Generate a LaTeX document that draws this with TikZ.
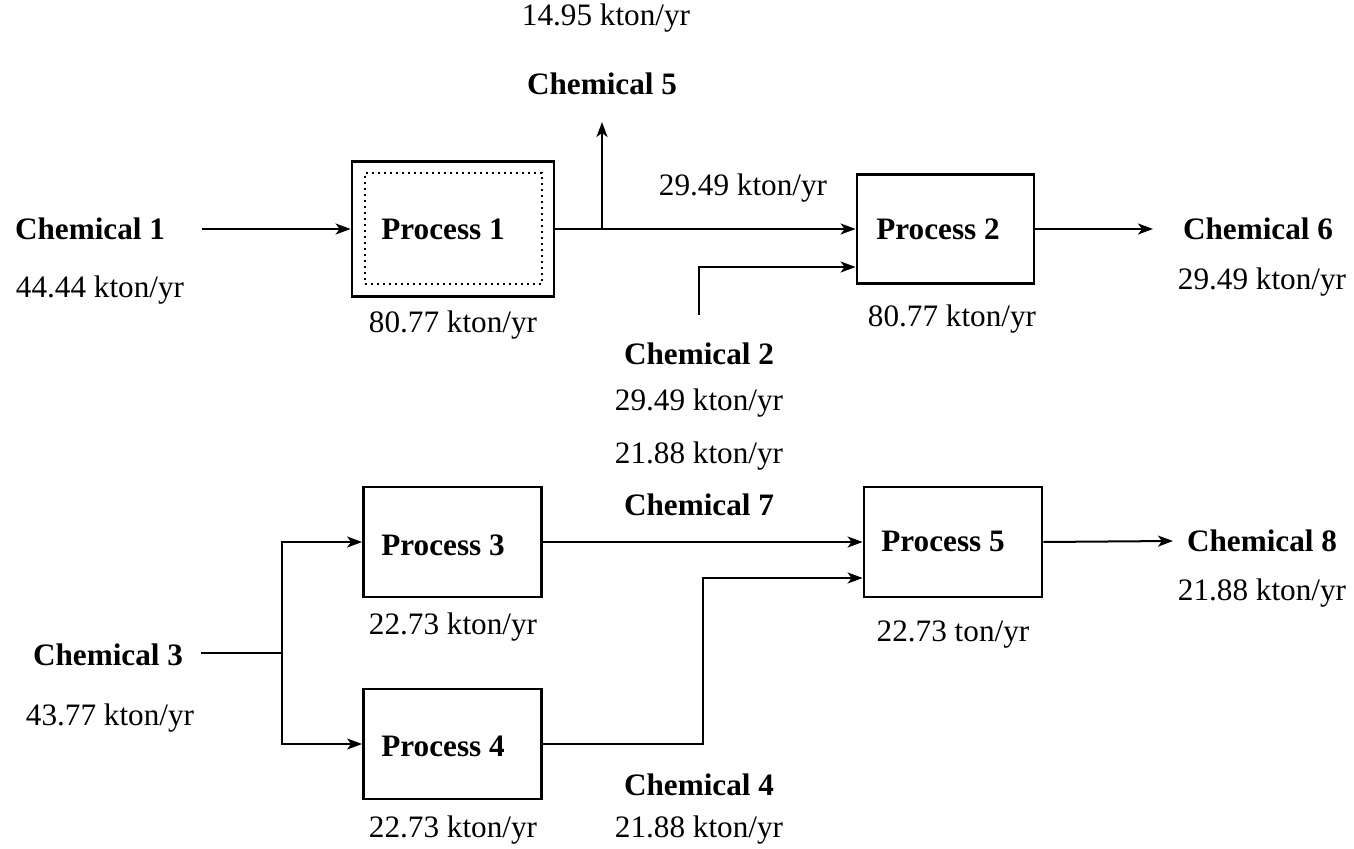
\documentclass[tikz,border=0pt]{standalone}
\usepackage{fontspec}
\setmainfont{Liberation Serif}
\usetikzlibrary{arrows.meta}
\begin{document}
\begin{tikzpicture}[x=0.5pt,y=-0.5pt,
  every node/.style={font=\fontsize{15.6}{18}\selectfont, inner sep=0pt},
  box/.style={draw, line width=1.4pt, rectangle, minimum width=89pt, minimum height=55pt},
  innerbox/.style={draw, dotted, line width=1pt, rectangle, minimum width=88.5pt, minimum height=55.5pt},
  title/.style={font=\fontsize{15.6}{18}\selectfont\bfseries},
  flow/.style={line width=1pt},
  arr/.style={flow, -{Stealth[length=7.5pt,width=5.5pt,inset=2pt]}}]
\useasboundingbox (0,0) rectangle (1354,849);

% process units
\node[box, minimum width=101pt, minimum height=67.5pt] (p1) at (453,229) {};
\node[innerbox] (p1in) at (453,229) {};
\node[title] (p1t) at (443,229) {Process 1};
\node[box, minimum width=88.5pt, minimum height=54.5pt] (p2) at (945.5,229) {};
\node[title] (p2t) at (938,229) {Process 2};
\node[box] (p3) at (452.5,542) {};
\node[title] (p3t) at (443,545) {Process 3};
\node[box] (p4) at (452.5,744) {};
\node[title] (p4t) at (443,746) {Process 4};
\node[box] (p5) at (953,542) {};
\node[title] (p5t) at (943,541) {Process 5};

% stream labels
\node (q5) at (606,18) {14.95 kton/yr};
\node[title] (c5) at (602,84) {Chemical 5};
\node (q12) at (743,188) {29.49 kton/yr};
\node[title] (c1) at (90,229) {Chemical 1};
\node (q1) at (100,290) {44.44 kton/yr};
\node (qp1) at (453,325) {80.77 kton/yr};
\node[title] (c6) at (1258,229) {Chemical 6};
\node (q6) at (1262,282) {29.49 kton/yr};
\node (qp2) at (952,319) {80.77 kton/yr};
\node[title] (c2) at (699,354) {Chemical 2};
\node (q2) at (699,403) {29.49 kton/yr};
\node (q7) at (699,456) {21.88 kton/yr};
\node[title] (c7) at (699,505) {Chemical 7};
\node (qp3) at (453,627) {22.73 kton/yr};
\node (qp5) at (953,635) {22.73 ton/yr};
\node[title] (c8) at (1262,541) {Chemical 8};
\node (q8) at (1262,593) {21.88 kton/yr};
\node[title] (c3) at (108,655) {Chemical 3};
\node (q3) at (110,718) {43.77 kton/yr};
\node[title] (c4) at (699,785) {Chemical 4};
\node (qp4) at (453,830) {22.73 kton/yr};
\node (q4) at (699,830) {21.88 kton/yr};

% stream end points and junctions
\coordinate (in1) at (202,229);
\coordinate (j5) at (602,229);
\coordinate (out5) at (602,122);
\coordinate (in2) at (699,315);
\coordinate (b2) at (699,267);
\coordinate (out6) at (1153,229);
\coordinate (in3) at (201,653);
\coordinate (j3) at (282,653);
\coordinate (b4) at (703,744);
\coordinate (out8) at (1173,541);

% streams
\draw[arr] (in1) -- (p1.west);
\draw[arr] (p1.east) -- (p2.west);
\draw[arr] (j5) -- (out5);
\draw[arr] (in2) -- (b2) -- (p2.west |- b2);
\draw[arr] (p2.east) -- (out6);
\draw[flow] (in3) -- (j3);
\draw[arr] (j3) |- (p3.west);
\draw[arr] (j3) |- (p4.west);
\draw[arr] (p3.east) -- (p5.west |- p3.east);
\draw[arr] (p4.east) -- (b4) |- (p5.west |- 0,578);
\draw[arr] (p5.east) -- (out8);
\end{tikzpicture}
\end{document}
